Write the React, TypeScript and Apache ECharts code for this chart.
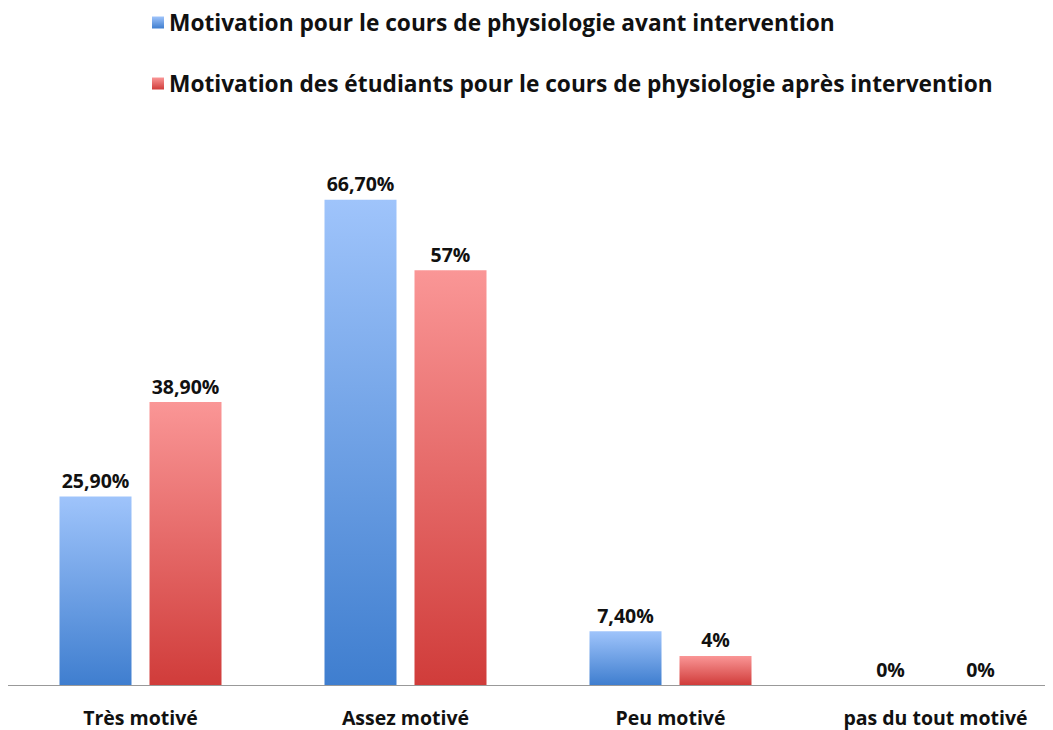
import React, { useEffect, useRef } from "react";
import * as echarts from "echarts";

const categories = ["Très motivé", "Assez motivé", "Peu motivé", "pas du tout motivé"];
const avantValues = [25.9, 66.7, 7.4, 0];
const apresValues = [38.9, 57, 4, 0];
const avantLabels = ["25,90%", "66,70%", "7,40%", "0%"];
const apresLabels = ["38,90%", "57%", "4%", "0%"];
const seriesNames = [
  "Motivation pour le cours de physiologie avant intervention",
  "Motivation des étudiants pour le cours de physiologie après intervention",
];

const FONT = "'Open Sans', 'DejaVu Sans', sans-serif";

function grad(top: string, bottom: string) {
  return new echarts.graphic.LinearGradient(0, 0, 0, 1, [
    { offset: 0, color: top },
    { offset: 1, color: bottom },
  ]);
}

export default function App() {
  const ref = useRef<HTMLDivElement>(null);
  useEffect(() => {
    if (!ref.current) return;
    const chart = echarts.init(ref.current, undefined, { renderer: "svg" });
    const labelStyle = {
      show: true,
      position: "top" as const,
      distance: 6,
      fontFamily: FONT,
      fontWeight: "bold" as const,
      fontSize: 19.5,
      color: "#111",
    };
    chart.setOption({
      animation: false,
      backgroundColor: "#fff",
      legend: {
        orient: "vertical",
        left: 139,
        top: -2,
        itemGap: 38,
        itemWidth: 12,
        itemHeight: 12,
        icon: "rect",
        textStyle: { fontFamily: FONT, fontWeight: "bold", fontSize: 22.7, color: "#111" },
        data: seriesNames,
      },
      grid: {
        left: 0,
        top: 95,
        width: 1060,
        bottom: 45,
        outerBoundsMode: "none",
        containLabel: false,
      },
      xAxis: {
        type: "category",
        data: categories,
        axisLine: { show: true, lineStyle: { color: "#999", width: 1 } },
        axisTick: { show: false },
        axisLabel: {
          margin: 22,
          fontFamily: FONT,
          fontWeight: "bold",
          fontSize: 19.5,
          color: "#111",
        },
      },
      yAxis: {
        type: "value",
        min: 0,
        max: 80,
        show: false,
        splitLine: { show: false },
      },
      series: [
        {
          name: seriesNames[0],
          type: "bar",
          data: avantValues,
          barWidth: 72,
          barGap: "25%",
          itemStyle: { color: grad("#9fc4fb", "#3f7ecf") },
          label: { ...labelStyle, formatter: (p: any) => avantLabels[p.dataIndex] },
        },
        {
          name: seriesNames[1],
          type: "bar",
          data: apresValues,
          barWidth: 72,
          itemStyle: { color: grad("#fa9696", "#d03c3a") },
          label: { ...labelStyle, formatter: (p: any) => apresLabels[p.dataIndex] },
        },
      ],
    });
    return () => chart.dispose();
  }, []);
  return <div ref={ref} style={{ width: 1045, height: 722 }} />;
}
